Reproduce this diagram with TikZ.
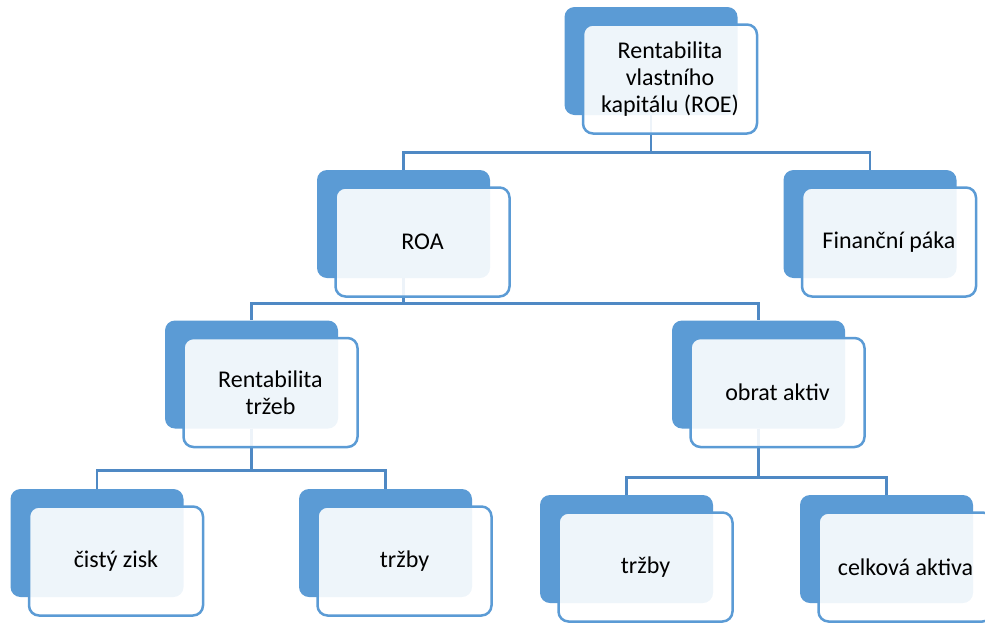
\documentclass[tikz,border=0pt]{standalone}
\usepackage{fontspec}
\setmainfont{Carlito}
\usepackage{tikz}

\definecolor{boxblue}{HTML}{5B9BD5}
\definecolor{lineblue}{HTML}{4F89C4}

\begin{document}
\begin{tikzpicture}[x=1pt, y=-1pt,
    back/.style = {fill=boxblue, rounded corners=10pt, minimum width=173pt, minimum height=108pt, inner sep=0pt},
    front/.style = {draw=boxblue, line width=2.5pt, fill=white, fill opacity=0.9, text opacity=1, rounded corners=10pt,
                    minimum width=174pt, minimum height=109pt, inner sep=0pt, align=center,
                    font=\fontsize{24}{27}\selectfont, text=black},
    conn/.style = {draw=lineblue, line width=2.7pt}]
    \useasboundingbox (0,0) rectangle (985,622);

    \node[back] (roeb) at (651,61) {};
    \node[back] (roab) at (403.5,224) {};
    \node[back] (finb) at (870,224) {};
    \node[back] (rtb) at (251.5,374.5) {};
    \node[back] (oab) at (758.5,374.5) {};
    \node[back] (czb) at (97,543) {};
    \node[back] (tr1b) at (385.5,543) {};
    \node[back] (tr2b) at (626.5,549) {};
    \node[back] (cab) at (886.5,549) {};

\draw[conn] (roeb.south) -- ++(0,37) -| (roab.north);
\draw[conn] (roeb.south) -- ++(0,37) -| (finb.north);
\draw[conn] (roab.south) -- ++(0,25) -| (rtb.north);
\draw[conn] (roab.south) -- ++(0,25) -| (oab.north);
\draw[conn] (rtb.south) -- ++(0,42) -| (czb.north);
\draw[conn] (rtb.south) -- ++(0,42) -| (tr1b.north);
\draw[conn] (oab.south) -- ++(0,49) -| (tr2b.north);
\draw[conn] (oab.south) -- ++(0,49) -| (cab.north);

    \node[front] (roe) at ([shift={(19,18)}]roeb) {Rentabilita\\vlastního\\kapitálu (ROE)};
    \node[front] (roa) at ([shift={(19,18)}]roab) {ROA};
    \node[front] (fin) at ([shift={(19,18)}]finb) {Finanční páka};
    \node[front] (rt) at ([shift={(19,18)}]rtb) {Rentabilita\\tržeb};
    \node[front] (oa) at ([shift={(19,18)}]oab) {obrat aktiv};
    \node[front] (cz) at ([shift={(19,18)}]czb) {čistý zisk};
    \node[front] (tr1) at ([shift={(19,18)}]tr1b) {tržby};
    \node[front] (tr2) at ([shift={(19,18)}]tr2b) {tržby};
    \node[front] (ca) at ([shift={(19,18)}]cab) {celková aktiva};
\end{tikzpicture}
\end{document}
